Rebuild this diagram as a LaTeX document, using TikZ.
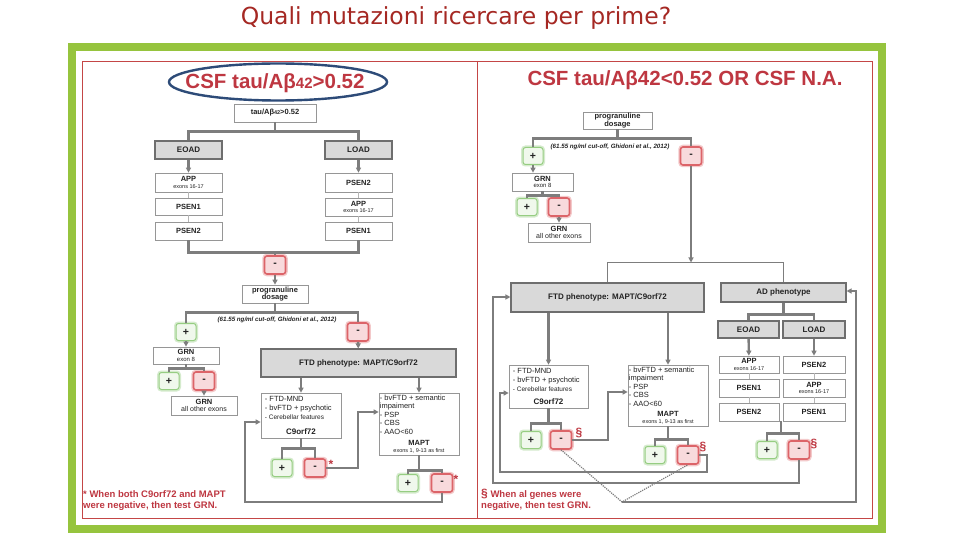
\documentclass[tikz,border=0pt]{standalone}
\usepackage{fontspec}
\setmainfont{Liberation Sans}
\newfontfamily\ttlfont{DejaVu Sans}
\usetikzlibrary{arrows.meta,calc,shapes.geometric}
\definecolor{frgreen}{RGB}{150,196,62}
\definecolor{frred}{RGB}{196,70,70}
\definecolor{ttred}{RGB}{190,55,65}
\definecolor{hdred}{RGB}{165,40,35}
\definecolor{ellblue}{RGB}{45,75,120}
\definecolor{lgray}{RGB}{125,125,125}
\definecolor{bxgray}{RGB}{150,150,150}
\definecolor{gfill}{RGB}{217,217,217}
\definecolor{gbord}{RGB}{110,110,110}
\definecolor{pgr}{RGB}{150,205,130}
\definecolor{pgfill}{RGB}{240,248,236}
\definecolor{mrd}{RGB}{220,100,105}
\definecolor{mfill}{RGB}{248,218,220}
\definecolor{txt}{RGB}{35,35,35}
\newcommand{\fsz}[1]{\fontsize{#1}{#1}\selectfont}
\newcommand{\bx}[7]{\node[#6, minimum width={(#4-#2)*1pt}, minimum height={(#5-#3)*1pt}] (#1) at ({(#2+#4)/2},{(#3+#5)/2}) {#7};}
\tikzset{
 conn/.style={draw=lgray, line width=2.4pt},
 cthin/.style={draw=lgray, line width=1.1pt},
 sepl/.style={draw=bxgray!70, line width=0.6pt},
 arr/.style={-{Triangle[length=5pt,width=5pt]}},
 wbox/.style={draw=bxgray, fill=white, line width=0.7pt, inner sep=0pt, align=center, text=txt, font=\fontsize{7.5}{7.5}\selectfont\bfseries},
 gbox/.style={draw=gbord, fill=gfill, line width=1.1pt, inner sep=0pt, align=center, text=txt, font=\fsz{8}\bfseries},
 lbox/.style={draw=bxgray, fill=white, line width=0.7pt, inner sep=0pt},
 plusbox/.style={draw=pgr, fill=pgfill, line width=1pt, rounded corners=2.5pt, minimum width=20pt, minimum height=17pt, inner sep=0pt, text=txt, font=\fsz{10.5}\bfseries, preaction={draw=pgr!40, line width=4pt}},
 minusbox/.style={draw=mrd, fill=mfill, line width=1.6pt, rounded corners=2.5pt, minimum width=21pt, minimum height=18pt, inner sep=0pt, text=txt, font=\fsz{10.5}\bfseries, preaction={draw=mrd!35, line width=4.5pt}},
 ttl/.style={text=ttred, font=\fsz{20.5}\bfseries, inner sep=0pt},
 fnote/.style={text=ttred, font=\fontsize{9.5}{11}\selectfont\bfseries, align=left, inner sep=0pt, anchor=north west},
 cutt/.style={text=txt, font=\fsz{6.2}\bfseries\itshape, inner sep=0pt},
 lst/.style={text=txt, font=\fontsize{7.5}{9}\selectfont, align=left, inner sep=0pt, anchor=north west},
 sym/.style={text=ttred, font=\fsz{12}\bfseries, inner sep=0pt},
 dotl/.style={draw=lgray, line width=1.2pt, densely dotted},
 gname/.style={text=txt, font=\fsz{8}\bfseries, inner sep=0pt, align=center},
}
\begin{document}
\begin{tikzpicture}[x=1pt,y=-1pt]
\fill[white] (0,0) rectangle (960,540);
\useasboundingbox (0,0) rectangle (960,540);
% heading
\node[font=\ttlfont\fsz{23.5}, text=hdred, inner sep=0pt] (hd) at (456,18) {Quali mutazioni ricercare per prime?};
% frames
\draw[frgreen, line width=8pt] (72,47) rectangle (882,529);
\draw[frred, line width=0.8pt] (82,61) rectangle (872,518);
\draw[frred, line width=0.8pt] (477,61) -- (477,518);

%%%%%%%%%%%%%%%% LEFT PANEL
\node[ttl] (lt) at (275,83) {CSF tau/Aβ{\fsz{15}42}>0.52};
\node[draw=ellblue, line width=2.4pt, ellipse, minimum width=218pt, minimum height=37pt, inner sep=0pt] (ell) at (278,82) {};
\bx{tau}{234}{104}{316}{122}{wbox}{tau/Aβ{\fsz{5.5}42}>0.52}
\bx{eoad}{155}{141}{222}{159}{gbox}{EOAD}
\bx{load}{325}{141}{392}{159}{gbox}{LOAD}
\bx{app1}{155}{173}{222}{192}{wbox}{APP\\[-1pt]{\fsz{5.5}\mdseries exons 16-17}}
\bx{ps1a}{155}{198}{222}{215}{wbox}{PSEN1}
\bx{ps2a}{155}{222}{222}{240}{wbox}{PSEN2}
\bx{ps2b}{325}{173}{392}{192}{wbox}{PSEN2}
\bx{app2}{325}{198}{392}{216}{wbox}{APP\\[-1pt]{\fsz{5.5}\mdseries exons 16-17}}
\bx{ps1b}{325}{222}{392}{240}{wbox}{PSEN1}
\path (tau.south) ++(0,9) coordinate (j1);
\draw[conn] (tau.south) -- (j1);
\draw[conn] (eoad.north) |- (j1) -| (load.north);
\draw[conn,arr] (eoad) -- (app1);
\draw[conn,arr] (load) -- (ps2b);
\draw[sepl] (app1) -- (ps1a);
\draw[sepl] (ps1a) -- (ps2a);
\draw[sepl] (ps2b) -- (app2);
\draw[sepl] (app2) -- (ps1b);
\node[minusbox] (lm1) at (275,265) {-};
\path (ps2a.south) ++(0,12) coordinate (j2);
\draw[conn] (ps2a.south) -- (j2) -| (ps1b.south);
\draw[conn] (lm1.north |- j2) -- (lm1.north);
\bx{dos1}{242}{285}{308}{303}{wbox}{progranuline\\dosage}
\draw[conn,arr] (lm1) -- (dos1);
\node[plusbox] (lp1) at (186,332) {+};
\node[minusbox] (lm2) at (358,332) {-};
\path (dos1.south) ++(0,9) coordinate (j3);
\draw[conn] (dos1.south) -- (j3);
\draw[conn] (lp1.north) |- (j3) -| (lm2.north);
\node[cutt] (cut1) at (277,320) {(61.55 ng/ml cut-off, Ghidoni et al., 2012)};
\bx{grn8a}{153}{347}{219}{364}{wbox}{GRN\\[-1pt]{\fsz{6}\mdseries exon 8}}
\draw[conn,arr] (lp1) -- (lp1 |- grn8a.north);
\node[plusbox] (lp2) at (169,381) {+};
\node[minusbox] (lm3) at (204,381) {-};
\path (grn8a.south) ++(0,4) coordinate (j4);
\draw[conn] (grn8a.south) -- (j4);
\draw[conn] (lp2.north) |- (j4) -| (lm3.north);
\bx{grnoa}{171}{396}{237}{415}{wbox}{GRN\\[-1pt]{\fsz{7}\mdseries all other exons}}
\draw[conn,arr] (lm3) -- (grnoa);
\bx{ftd1}{261}{349}{456}{377}{gbox}{FTD phenotype: MAPT/C9orf72}
\draw[conn,arr] (lm2) -- (ftd1);
\bx{c9a}{261}{393}{341}{438}{lbox}{}
\bx{mapa}{379}{393}{459}{455}{lbox}{}
\draw[conn,arr] (c9a.north |- ftd1.south) -- (c9a.north);
\draw[conn,arr] (mapa.north |- ftd1.south) -- (mapa.north);
\node[lst] (c9at) at ($(c9a.north west)+(4,3)$) {- FTD-MND\\- bvFTD + psychotic\\{\fsz{6.5}- Cerebellar features}};
\node[gname, anchor=south] (c9an) at ($(c9a.south)+(0,-4)$) {C9orf72};
\node[lst, font=\fontsize{7.5}{8.5}\selectfont] (mapat) at ($(mapa.north west)+(1,2)$) {- bvFTD + semantic\\impaiment\\- PSP\\- CBS\\- AAO<60};
\node[gname, anchor=south, font=\fontsize{7.5}{7}\selectfont\bfseries] (mapan) at ($(mapa.south)+(0,-2)$) {MAPT\\{\fsz{5.5}\mdseries exons 1, 9-13 as first}};
\node[plusbox] (lp3) at (282,468) {+};
\node[minusbox] (lm4) at (315,468) {-};
\path (c9a.south) ++(0,10) coordinate (j5);
\draw[conn] (c9a.south) -- (j5);
\draw[conn] (lp3.north) |- (j5) -| (lm4.north);
\node[sym] (st1) at (331,464) {*};
\node[plusbox] (lp4) at (408,483) {+};
\node[minusbox] (lm5) at (442,483) {-};
\path (mapa.south) ++(0,15) coordinate (j6);
\draw[conn] (mapa.south) -- (j6);
\draw[conn] (lp4.north) |- (j6) -| (lm5.north);
\node[sym] (st2) at (456,479) {*};
\coordinate (k1) at (358,412);
\draw[conn,arr] (lm4.east) -| (k1) -- (k1 -| mapa.west);
\coordinate (k2) at (245,502);
\coordinate (k3) at (245,422);
\draw[conn,arr] (lm5.south) |- (k2) -- (k3) -- (k3 -| c9a.west);
\node[fnote] (fn1) at (83,490) {* When both C9orf72 and MAPT\\were negative, then test GRN.};

%%%%%%%%%%%%%%%% RIGHT PANEL
\node[ttl] (rt) at (685,80) {CSF tau/Aβ42<0.52 OR CSF N.A.};
\bx{dos2}{583}{112}{652}{129}{wbox}{progranuline\\dosage}
\node[plusbox] (rp1) at (533,156) {+};
\node[minusbox] (rm1) at (691,156) {-};
\path (dos2.south) ++(0,9) coordinate (j7);
\draw[conn] (dos2.south) -- (j7);
\draw[conn] (rp1.north) |- (j7) -| (rm1.north);
\node[cutt] (cut2) at (610,147) {(61.55 ng/ml cut-off, Ghidoni et al., 2012)};
\bx{grn8b}{512}{173}{573}{191}{wbox}{GRN\\[-1pt]{\fsz{6}\mdseries exon 8}}
\draw[conn,arr] (rp1.south) -- (rp1.south |- grn8b.north);
\node[plusbox] (rp2) at (527,207) {+};
\node[minusbox] (rm2) at (559,207) {-};
\path (grn8b.south) ++(0,4) coordinate (j8);
\draw[conn] (grn8b.south) -- (j8);
\draw[conn] (rp2.north) |- (j8) -| (rm2.north);
\bx{grnob}{528}{223}{590}{242}{wbox}{GRN\\[-1pt]{\fsz{7}\mdseries all other exons}}
\draw[conn,arr] (rm2.south) -- (rm2.south |- grnob.north);
\bx{ftd2}{511}{283}{704}{312}{gbox}{FTD phenotype: MAPT/C9orf72}
\bx{ad}{721}{283}{846}{302}{gbox}{AD phenotype}
\path (ftd2.north) ++(0,-20) coordinate (j9);
\draw[cthin] (ftd2.north) -- (j9) -| (ad.north);
\draw[conn,arr] (rm1.south) -- (rm1.south |- j9);
\bx{eoad2}{718}{321}{779}{338}{gbox}{EOAD}
\bx{load2}{783}{321}{845}{338}{gbox}{LOAD}
\path (ad.south) ++(0,12) coordinate (j10);
\draw[conn] (ad.south) -- (j10);
\draw[conn] (eoad2.north) |- (j10) -| (load2.north);
\bx{app3}{719}{356}{779}{373}{wbox}{APP\\[-1pt]{\fsz{5.5}\mdseries exons 16-17}}
\bx{ps1c}{719}{379}{779}{397}{wbox}{PSEN1}
\bx{ps2d}{719}{403}{779}{421}{wbox}{PSEN2}
\bx{ps2c}{783}{356}{845}{373}{wbox}{PSEN2}
\bx{app4}{783}{379}{845}{397}{wbox}{APP\\[-1pt]{\fsz{5.5}\mdseries exons 16-17}}
\bx{ps1d}{783}{403}{845}{421}{wbox}{PSEN1}
\draw[conn,arr] (eoad2) -- (app3);
\draw[conn,arr] (load2) -- (ps2c);
\draw[sepl] (app3) -- (ps1c);
\draw[sepl] (ps1c) -- (ps2d);
\draw[sepl] (ps2c) -- (app4);
\draw[sepl] (app4) -- (ps1d);
\coordinate (mid) at ($(ps2d.south east)!0.5!(ps1d.south west)$);
\path (mid) ++(0,12) coordinate (j11);
\node[plusbox] (rp5) at (767,450) {+};
\node[minusbox] (rm5) at (799,450) {-};
\draw[conn] (mid) -- (j11);
\draw[conn] (rp5.north) |- (j11) -| (rm5.north);
\node[sym] (sg3) at (814,444) {§};
\bx{c9b}{509}{365}{588}{408}{lbox}{}
\bx{mapb}{628}{365}{708}{426}{lbox}{}
\draw[conn,arr] (c9b.north |- ftd2.south) -- (c9b.north);
\draw[conn,arr] (mapb.north |- ftd2.south) -- (mapb.north);
\node[lst] (c9bt) at ($(c9b.north west)+(4,3)$) {- FTD-MND\\- bvFTD + psychotic\\{\fsz{6.5}- Cerebellar features}};
\node[gname, anchor=south] (c9bn) at ($(c9b.south)+(0,-4)$) {C9orf72};
\node[lst, font=\fontsize{7.5}{8.5}\selectfont] (mapbt) at ($(mapb.north west)+(1,2)$) {- bvFTD + semantic\\impaiment\\- PSP\\- CBS\\- AAO<60};
\node[gname, anchor=south, font=\fontsize{7.5}{7}\selectfont\bfseries] (mapbn) at ($(mapb.south)+(0,-2)$) {MAPT\\{\fsz{5.5}\mdseries exons 1, 9-13 as first}};
\node[plusbox] (rp6) at (531,440) {+};
\node[minusbox] (rm6) at (561,440) {-};
\path (c9b.south) ++(0,15) coordinate (j12);
\draw[conn] (c9b.south) -- (j12);
\draw[conn] (rp6.north) |- (j12) -| (rm6.north);
\node[sym] (sg1) at (579,433) {§};
\node[plusbox] (rp7) at (655,455) {+};
\node[minusbox] (rm7) at (688,455) {-};
\path (mapb.south) ++(0,13) coordinate (j13);
\draw[conn] (mapb.south) -- (j13);
\draw[conn] (rp7.north) |- (j13) -| (rm7.north);
\node[sym] (sg2) at (703,447) {§};
\coordinate (k6) at (608,392);
\draw[conn,arr] (rm6.east) -| (k6) -- (k6 -| mapb.west);
\coordinate (k7) at (707,472);
\coordinate (k8) at (500,472);
\coordinate (k9) at (500,393);
\draw[conn,arr] (rm7.east) -| (k7) -- (k8) -- (k9) -- (k9 -| c9b.west);
\coordinate (k4) at (493,483);
\coordinate (k5) at (493,297);
\draw[conn,arr] (rm5.south) |- (k4) -- (k5) -- (k5 -| ftd2.west);
\coordinate (conv) at (622,502);
\draw[dotl] (rm6.south) -- (conv) -- (rm7.south);
\coordinate (k10) at (856,502);
\coordinate (k11) at (856,291);
\draw[conn,arr] (conv) -- (k10) -- (k11) -- (k11 -| ad.east);
\node[fnote] (fn2) at (481,489) {{\fsz{12}§} When  al genes were\\negative, then test GRN.};
\end{tikzpicture}
\end{document}
